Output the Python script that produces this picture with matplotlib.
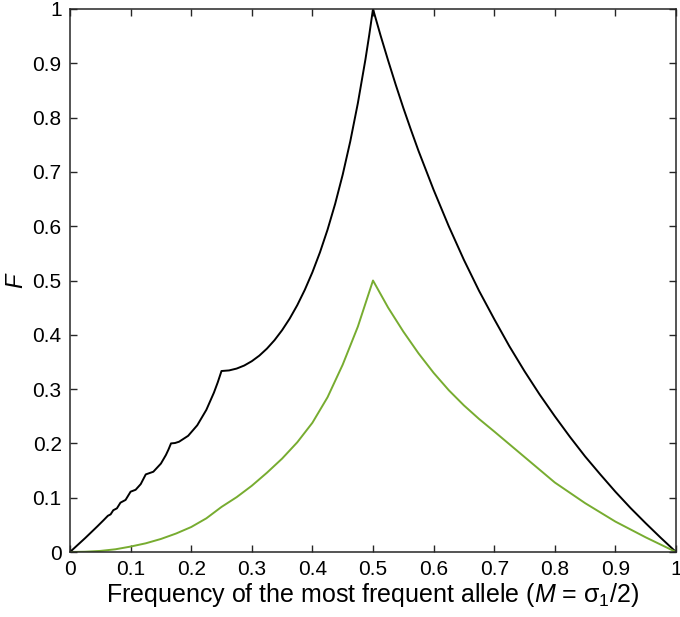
import matplotlib
matplotlib.use("agg")
import matplotlib.pyplot as plt

# black curve: maximum F vs M
m_max = [0.0, 0.025, 0.0417, 0.0455, 0.05, 0.0556, 0.0625, 0.067, 0.0714, 0.0774,
         0.0833, 0.0917, 0.1, 0.1083, 0.1167, 0.125, 0.1375, 0.15, 0.1583, 0.1625, 0.1667,
         0.1733, 0.18, 0.195, 0.21, 0.225, 0.2375, 0.2438, 0.25, 0.2625, 0.275, 0.2875, 0.3,
         0.3125, 0.325, 0.3375, 0.35, 0.3625,
         0.375, 0.3875, 0.4, 0.4125, 0.425, 0.4375, 0.45, 0.4625, 0.475, 0.4875, 0.4938, 0.5,
         0.5125, 0.525, 0.5375, 0.55, 0.5625, 0.575, 0.6, 0.625, 0.65, 0.675, 0.7, 0.725, 0.75,
         0.775, 0.8, 0.825, 0.85, 0.875, 0.9, 0.925, 0.95, 0.975, 1.0]
f_max = [0.0, 0.0256, 0.0435, 0.0476, 0.0526, 0.0588, 0.0667, 0.0693, 0.0769, 0.0804,
         0.0909, 0.0959, 0.1111, 0.1146, 0.125, 0.1429, 0.1478, 0.1628, 0.1787, 0.1887, 0.2,
         0.2007, 0.2031, 0.214, 0.2334, 0.2618, 0.2935, 0.3124, 0.3333, 0.3344, 0.3378, 0.3434, 0.3514,
         0.3617, 0.3746, 0.3901, 0.4085, 0.4298,
         0.4545, 0.4829, 0.5152, 0.5519, 0.5936, 0.641, 0.6949, 0.7563, 0.8265, 0.907, 0.9522, 1.0,
         0.9512, 0.905, 0.8605, 0.818, 0.7778, 0.739, 0.667, 0.6, 0.538, 0.481, 0.429, 0.379, 0.333,
         0.29, 0.25, 0.212, 0.176, 0.143, 0.111, 0.081, 0.053, 0.026, 0.0]

# green curve
m_mean = [0.0, 0.025, 0.05, 0.075, 0.1, 0.125, 0.15, 0.175, 0.2, 0.225, 0.25,
          0.275, 0.3, 0.325, 0.35, 0.375, 0.4, 0.425, 0.45, 0.475, 0.5,
          0.525, 0.55, 0.575, 0.6, 0.625, 0.65, 0.675, 0.7, 0.75, 0.8, 0.85,
          0.9, 0.95, 1.0]
f_mean = [0.0, 0.0005, 0.002, 0.005, 0.01, 0.016, 0.024, 0.034, 0.046, 0.062, 0.083,
          0.101, 0.122, 0.146, 0.172, 0.202, 0.238, 0.285, 0.345, 0.415, 0.5,
          0.45, 0.406, 0.366, 0.33, 0.298, 0.27, 0.245, 0.222, 0.175, 0.128, 0.09,
          0.056, 0.027, 0.0]

ticks = [0, 0.1, 0.2, 0.3, 0.4, 0.5, 0.6, 0.7, 0.8, 0.9, 1]
tick_labels = ["0", "0.1", "0.2", "0.3", "0.4", "0.5", "0.6", "0.7", "0.8", "0.9", "1"]

plt.rcParams['font.family'] = ['Liberation Sans', 'DejaVu Sans']
plt.rcParams['mathtext.fontset'] = 'custom'
plt.rcParams['mathtext.rm'] = 'Liberation Sans'
plt.rcParams['mathtext.it'] = 'Liberation Sans:italic'

fig = plt.figure(figsize=(6.8, 6.17), dpi=100)
ax = fig.add_axes([70/680, 65/617, 606/680, 543/617])

ax.plot(m_max, f_max, color='black', linewidth=1.4)
ax.plot(m_mean, f_mean, color='#77AC30', linewidth=1.4)

ax.set_xlim(0, 1)
ax.set_ylim(0, 1)
ax.set_xticks(ticks)
ax.set_xticklabels(tick_labels)
ax.set_yticks(ticks)
ax.set_yticklabels(tick_labels)
ax.tick_params(direction='in', top=True, right=True, length=5, width=1,
               labelsize=15, pad=6, colors='#262626', labelcolor='black')
for s in ax.spines.values():
    s.set_linewidth(1.1)
    s.set_color('#262626')

ax.set_xlabel(r'Frequency of the most frequent allele ($\mathit{M}$ = σ$_1$/2)', fontsize=18, labelpad=1)
ax.set_ylabel('F', fontsize=17, style='italic', labelpad=4)

fig.savefig('out.png', dpi=100)
